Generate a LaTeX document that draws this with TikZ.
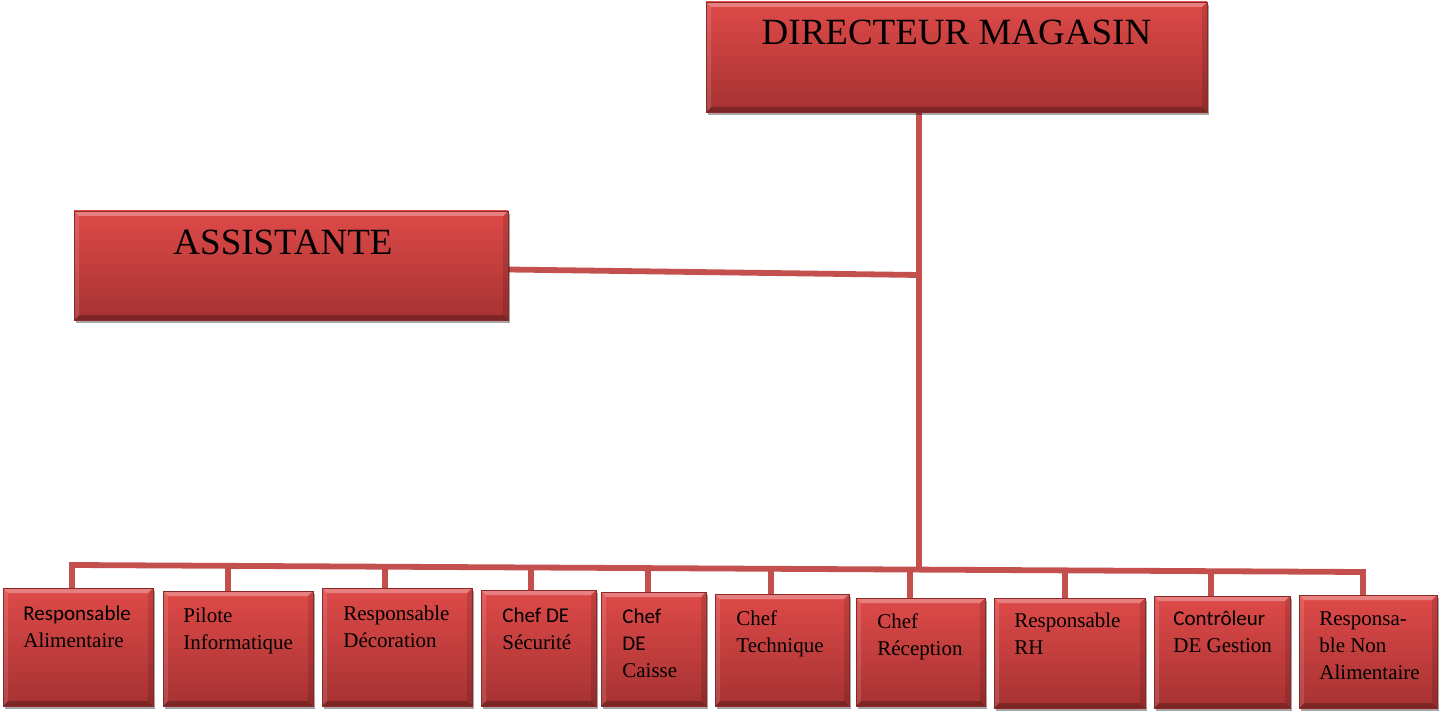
\documentclass[tikz,border=0pt]{standalone}
\usepackage{fontspec}
\setmainfont{Liberation Serif}
\newfontfamily\calib{Carlito}
\usetikzlibrary{shadows,backgrounds}

\definecolor{boxtop}{RGB}{222,74,72}
\definecolor{boxbot}{RGB}{166,50,50}
\definecolor{linkred}{RGB}{196,80,78}
\definecolor{rim}{RGB}{140,40,40}

\tikzset{
  orgbox/.style={rectangle, inner sep=0pt, outer sep=0pt,
    top color=boxtop, bottom color=boxbot, draw=rim, line width=0.4pt,
    drop shadow={shadow xshift=1pt, shadow yshift=-1.5pt, opacity=0.35, fill=black},
    path picture={
      % bevelled rim: light top and left, dark bottom and right
      \fill[white,opacity=.30] (path picture bounding box.north west) -- (path picture bounding box.north east)
        -- ([shift={(-2.5pt,-2.5pt)}]path picture bounding box.north east)
        -- ([shift={(2.5pt,-2.5pt)}]path picture bounding box.north west) -- cycle;
      \fill[black,opacity=.25] (path picture bounding box.south west) -- (path picture bounding box.south east)
        -- ([shift={(-2.5pt,2.5pt)}]path picture bounding box.south east)
        -- ([shift={(2.5pt,2.5pt)}]path picture bounding box.south west) -- cycle;
      \fill[white,opacity=.12] (path picture bounding box.north west)
        -- ([shift={(2.5pt,-2.5pt)}]path picture bounding box.north west)
        -- ([shift={(2.5pt,2.5pt)}]path picture bounding box.south west)
        -- (path picture bounding box.south west) -- cycle;
      \fill[black,opacity=.12] (path picture bounding box.north east)
        -- ([shift={(-2.5pt,-2.5pt)}]path picture bounding box.north east)
        -- ([shift={(-2.5pt,2.5pt)}]path picture bounding box.south east)
        -- (path picture bounding box.south east) -- cycle;
    }},
  bigtxt/.style={inner sep=0pt, font=\fontsize{18.5}{22}\selectfont},
  smalltxt/.style={anchor=north west, inner sep=0pt, align=left, font=\fontsize{10.5}{13.5}\selectfont},
  conn/.style={draw=linkred, line width=2.9pt, line join=miter}
}

\begin{document}
\begin{tikzpicture}[x=0.5pt, y=-0.5pt]
\useasboundingbox (0,0) rectangle (1440,711);

% top level
\node[orgbox, minimum width=250.5pt, minimum height=55pt] (dir) at (956.5,57) {};
\node[bigtxt, anchor=base] (tdir) at ([shift={(0,43)}]dir.north) {DIRECTEUR MAGASIN};

\node[orgbox, minimum width=217pt, minimum height=54.5pt] (asst) at (291,265.5) {};
\node[bigtxt, anchor=base] (tasst) at ([shift={(-8,44)}]asst.north) {ASSISTANTE};

% department heads
\node[orgbox, minimum width=75pt,   minimum height=59pt]   (b1)  at (78,647)     {};
\node[orgbox, minimum width=75pt,   minimum height=57.5pt] (b2)  at (238,648.5)  {};
\node[orgbox, minimum width=75pt,   minimum height=59pt]   (b3)  at (397,647)    {};
\node[orgbox, minimum width=57.5pt, minimum height=58pt]   (b4)  at (538.5,648)  {};
\node[orgbox, minimum width=52.5pt, minimum height=57pt]   (b5)  at (653.5,649)  {};
\node[orgbox, minimum width=67pt,   minimum height=56pt]   (b6)  at (782,650)    {};
\node[orgbox, minimum width=64.5pt, minimum height=54pt]   (b7)  at (920.5,652)  {};
\node[orgbox, minimum width=75.5pt, minimum height=55pt]   (b8)  at (1069.5,653) {};
\node[orgbox, minimum width=68pt,   minimum height=56pt]   (b9)  at (1222,652)   {};
\node[orgbox, minimum width=69pt,   minimum height=56.5pt] (b10) at (1368,651.5) {};

\node[smalltxt] (t1)  at ([shift={(20,18)}]b1.north west)  {{\calib Responsable}\\Alimentaire};
\node[smalltxt] (t2)  at ([shift={(20,17)}]b2.north west)  {Pilote\\Informatique};
\node[smalltxt] (t3)  at ([shift={(21,18)}]b3.north west)  {Responsable\\Décoration};
\node[smalltxt] (t4)  at ([shift={(21,18)}]b4.north west)  {{\calib Chef DE}\\Sécurité};
\node[smalltxt] (t5)  at ([shift={(21,17)}]b5.north west)  {{\calib Chef}\\{\calib DE}\\Caisse};
\node[smalltxt] (t6)  at ([shift={(21,16)}]b6.north west)  {Chef\\Technique};
\node[smalltxt] (t7)  at ([shift={(21,15)}]b7.north west)  {Chef\\Réception};
\node[smalltxt] (t8)  at ([shift={(20,15)}]b8.north west)  {Responsable\\RH};
\node[smalltxt] (t9)  at ([shift={(19,15)}]b9.north west)  {{\calib Contrôleur}\\DE Gestion};
\node[smalltxt] (t10) at ([shift={(20,16)}]b10.north west) {Responsa-\\ble Non\\Alimentaire};

% connector points
\coordinate (ja) at (919,275);
\coordinate (jt) at (919,570);
\coordinate (d1)  at (72,565);
\coordinate (d2)  at (228,565.9);
\coordinate (d3)  at (385,566.7);
\coordinate (d4)  at (531,567.5);
\coordinate (d5)  at (648,568.1);
\coordinate (d6)  at (771,568.8);
\coordinate (d7)  at (910,569.6);
\coordinate (d8)  at (1065,570.4);
\coordinate (d9)  at (1211,571.2);
\coordinate (d10) at (1363,572);

\begin{scope}[on background layer]
  \draw[conn] (dir.south -| jt) -- (jt);
  \draw[conn] ([shift={(0,4)}]asst.east) -- (ja);
  \draw[conn] (d1 |- b1.north) -- (d1) -- (d10) -- (d10 |- b10.north);
  \foreach \i in {2,...,9} {
    \draw[conn] (d\i) -- (d\i |- b\i.north);
  }
\end{scope}
\end{tikzpicture}
\end{document}
